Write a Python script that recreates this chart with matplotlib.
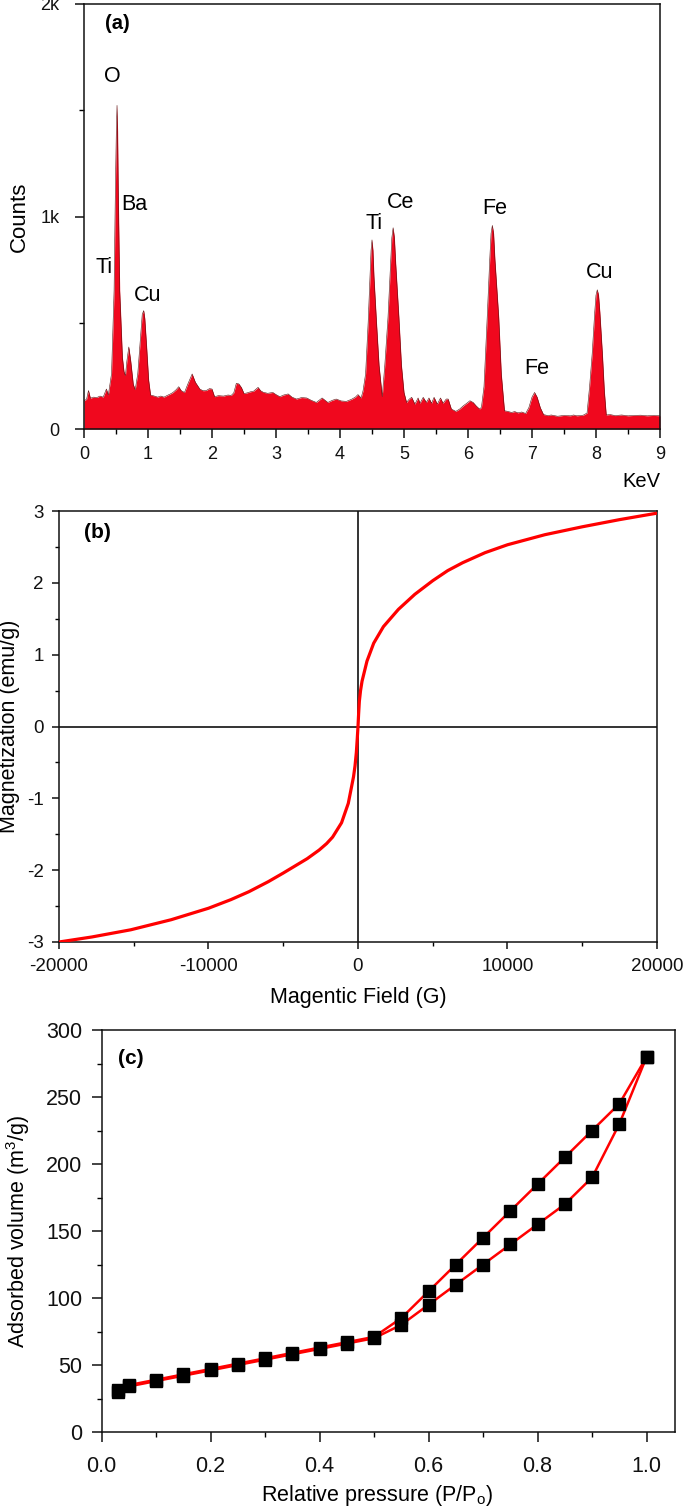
"""
Three-panel figure: EDS spectrum, M-H loop and N2 sorption isotherm.
"""

import matplotlib
matplotlib.use("Agg")
import matplotlib.pyplot as plt
from matplotlib.ticker import MultipleLocator, FixedLocator, FixedFormatter, FormatStrFormatter

plt.rcParams["font.family"] = ["Liberation Sans", "DejaVu Sans"]
plt.rcParams["axes.unicode_minus"] = False
plt.rcParams["mathtext.fontset"] = "custom"
plt.rcParams["mathtext.rm"] = "Liberation Sans"
plt.rcParams["mathtext.default"] = "regular"

RED = "#f0081e"

# (a) EDS spectrum
energy = [0.00, 0.04, 0.07, 0.10, 0.15, 0.20, 0.25, 0.30, 0.35, 0.38,
          0.40, 0.43, 0.455, 0.47, 0.49, 0.505, 0.516, 0.525, 0.535, 0.558,
          0.60, 0.625, 0.647, 0.67, 0.70, 0.73, 0.77, 0.80, 0.84, 0.88,
          0.91, 0.933, 0.95, 0.98, 1.01, 1.04, 1.10, 1.15, 1.20, 1.25,
          1.30, 1.35, 1.39, 1.44, 1.48, 1.52, 1.57, 1.62, 1.69, 1.74,
          1.81, 1.86, 1.91, 1.96, 2.00, 2.04, 2.10, 2.18, 2.25, 2.30,
          2.34, 2.38, 2.42, 2.46, 2.50, 2.55, 2.60, 2.65, 2.72, 2.76,
          2.80, 2.87, 2.95, 3.00, 3.06, 3.12, 3.19, 3.25, 3.32, 3.40,
          3.48, 3.55, 3.63, 3.72, 3.81, 3.88, 3.94, 4.02, 4.10, 4.18,
          4.24, 4.28, 4.33, 4.36, 4.40, 4.44, 4.47, 4.485, 4.50, 4.515,
          4.53, 4.57, 4.61, 4.66, 4.70, 4.75, 4.79, 4.81, 4.83, 4.85,
          4.87, 4.92, 4.96, 5.00, 5.04, 5.08, 5.12, 5.17, 5.22, 5.25,
          5.30, 5.35, 5.39, 5.43, 5.47, 5.52, 5.57, 5.61, 5.66, 5.69,
          5.74, 5.81, 5.87, 5.93, 5.98, 6.03, 6.08, 6.13, 6.18, 6.21,
          6.25, 6.30, 6.34, 6.36, 6.38, 6.40, 6.42, 6.48, 6.52, 6.57,
          6.62, 6.68, 6.73, 6.78, 6.84, 6.90, 6.95, 7.00, 7.04, 7.08,
          7.13, 7.18, 7.25, 7.30, 7.40, 7.50, 7.60, 7.65, 7.70, 7.80,
          7.86, 7.90, 7.94, 7.98, 8.00, 8.02, 8.04, 8.06, 8.10, 8.13,
          8.16, 8.22, 8.30, 8.40, 8.50, 8.60, 8.70, 8.80, 8.90, 9.00]
counts = [133, 140, 181, 145, 150, 148, 155, 150, 188, 160,
          200, 260, 496, 651, 1122, 1400, 1523, 1400, 1122, 651,
          337, 270, 251, 320, 386, 320, 210, 185, 260, 420,
          540, 557, 520, 380, 230, 160, 155, 150, 155, 150,
          158, 165, 172, 185, 199, 180, 172, 210, 259, 220,
          188, 180, 181, 190, 188, 152, 157, 155, 160, 158,
          170, 215, 212, 195, 167, 170, 175, 178, 196, 180,
          173, 168, 172, 162, 152, 160, 165, 150, 141, 148,
          146, 135, 125, 146, 125, 135, 141, 132, 130, 140,
          150, 162, 146, 180, 260, 502, 720, 840, 890, 840,
          720, 502, 300, 152, 300, 526, 780, 900, 947, 900,
          780, 526, 300, 172, 125, 140, 149, 117, 146, 121,
          149, 125, 146, 121, 149, 117, 146, 121, 141, 141,
          94, 83, 94, 110, 121, 133, 125, 108, 94, 102,
          200, 526, 800, 920, 958, 920, 800, 526, 260, 86,
          83, 78, 82, 76, 80, 73, 100, 150, 172, 150,
          100, 68, 63, 66, 60, 64, 62, 66, 62, 65,
          75, 200, 353, 550, 630, 655, 630, 550, 353, 180,
          66, 68, 63, 66, 62, 64, 65, 62, 64, 62]

eds_labels = ["O", "Ba", "Ti", "Cu", "Ti", "Ce", "Fe", "Fe", "Cu"]
eds_label_kev = [0.45, 0.585, 0.31, 1.0, 4.53, 4.94, 6.42, 7.08, 8.05]
eds_label_cts = [1659, 1056, 761, 628, 969, 1065, 1036, 283, 738]

# (b) magnetisation curve
field = [-20000, -17800, -15200, -12500, -10000, -8500, -7300, -6000, -5000,
         -3400, -2600, -2100, -1700, -1100, -650, -300, -200, -110, -50, 0,
         40, 90, 170, 270, 600, 1050, 1700, 2700, 3800, 5000, 6000, 7000,
         8500, 10000, 12500, 15000, 17500, 20000]
magnet = [-3.0, -2.93, -2.83, -2.69, -2.53, -2.41, -2.30, -2.16, -2.04,
          -1.84, -1.72, -1.63, -1.54, -1.34, -1.07, -0.70, -0.55, -0.36, -0.17, 0.0,
          0.17, 0.35, 0.50, 0.63, 0.91, 1.16, 1.39, 1.63, 1.84, 2.03, 2.17, 2.28,
          2.42, 2.53, 2.67, 2.78, 2.88, 2.97]

# (c) sorption isotherm
p_ads = [0.03, 0.05, 0.10, 0.15, 0.20, 0.25, 0.30, 0.35, 0.40, 0.45, 0.50,
         0.55, 0.60, 0.65, 0.70, 0.75, 0.80, 0.85, 0.90, 0.95, 1.00]
v_ads = [30, 34, 38, 42, 46, 50, 54, 58, 62, 66, 70,
         80, 95, 110, 125, 140, 155, 170, 190, 230, 280]
p_des = [1.00, 0.95, 0.90, 0.85, 0.80, 0.75, 0.70, 0.65, 0.60, 0.55, 0.50,
         0.45, 0.40, 0.35, 0.30, 0.25, 0.20, 0.15, 0.10, 0.05, 0.03]
v_des = [280, 245, 225, 205, 185, 165, 145, 125, 105, 85, 71,
         67, 63, 59, 55, 51, 47, 43, 39, 35, 31]

fig = plt.figure(figsize=(6.85, 15.07), dpi=100)
W, H = 685.0, 1507.0


def add_axes(left, right, top, bottom):
    return fig.add_axes([left / W, 1 - bottom / H, (right - left) / W, (bottom - top) / H])


def style(ax, lsize, maj_len, pad_x, pad_y):
    for sp in ax.spines.values():
        sp.set_linewidth(1.1)
        sp.set_color("#111")
    ax.tick_params(which="major", direction="out", length=maj_len, width=1.1,
                   labelsize=lsize, colors="#111")
    ax.tick_params(which="minor", direction="out", length=maj_len * 0.55, width=1.0)
    ax.tick_params(axis="x", which="major", pad=pad_x)
    ax.tick_params(axis="y", which="major", pad=pad_y)


# ---- (a)
ax = add_axes(84, 660, 4, 429)
ax.fill_between(energy, counts, 0, color=RED, lw=0)
ax.plot(energy, counts, color="#5a1010", lw=0.4)
ax.set_xlim(0, 9)
ax.set_ylim(0, 2000)
ax.xaxis.set_major_locator(MultipleLocator(1))
ax.xaxis.set_minor_locator(MultipleLocator(0.5))
ax.yaxis.set_major_locator(FixedLocator([0, 1000, 2000]))
ax.yaxis.set_major_formatter(FixedFormatter(["0", "1k", "2k"]))
ax.yaxis.set_minor_locator(MultipleLocator(500))
style(ax, 13, 6.5, 5.5, 11)
for t, x, y in zip(eds_labels, eds_label_kev, eds_label_cts):
    ax.text(x, y, t, fontsize=15.5, ha="left" if t == "Ba" else "center", va="center")
ax.text(0.036, 0.955, "(a)", transform=ax.transAxes, fontsize=14.5,
        fontweight="bold", ha="left", va="center")
ax.set_ylabel("Counts", fontsize=16)
ax.yaxis.set_label_coords(-0.094, 0.5)
ax.text(0.967, -0.102, "KeV", transform=ax.transAxes, fontsize=14.5,
        ha="center", va="top")

# ---- (b)
ax = add_axes(59, 657, 511, 942)
ax.axhline(0, color="#111", lw=1.2, zorder=1)
ax.axvline(0, color="#111", lw=1.2, zorder=1)
ax.plot(field, magnet, color="#ff0000", lw=2.3, zorder=3, solid_capstyle="butt")
ax.set_xlim(-20000, 20000)
ax.set_ylim(-3, 3)
ax.xaxis.set_major_locator(MultipleLocator(10000))
ax.xaxis.set_minor_locator(MultipleLocator(5000))
ax.yaxis.set_major_locator(MultipleLocator(1))
ax.yaxis.set_minor_locator(MultipleLocator(0.5))
style(ax, 13.5, 5, 6.5, 6)
ax.text(0.042, 0.949, "(b)", transform=ax.transAxes, fontsize=15,
        fontweight="bold", ha="left", va="center")
ax.set_xlabel("Magentic Field (G)", fontsize=15.5)
ax.xaxis.set_label_coords(0.5, -0.105)
ax.set_ylabel("Magnetization (emu/g)", fontsize=15.5)
ax.yaxis.set_label_coords(-0.066, 0.5)

# ---- (c)
ax = add_axes(101.5, 675, 1030, 1432)
for p, v in ((p_ads, v_ads), (p_des, v_des)):
    ax.plot(p, v, color="#ff0000", lw=1.8, marker="s", ms=8.5,
            mfc="black", mec="black", zorder=3)
ax.set_xlim(0, 1.052)
ax.set_ylim(0, 300)
ax.xaxis.set_major_locator(MultipleLocator(0.2))
ax.xaxis.set_minor_locator(MultipleLocator(0.1))
ax.xaxis.set_major_formatter(FormatStrFormatter("%.1f"))
ax.yaxis.set_major_locator(MultipleLocator(50))
ax.yaxis.set_minor_locator(MultipleLocator(25))
style(ax, 15.5, 7, 10, 7)
ax.text(0.028, 0.928, "(c)", transform=ax.transAxes, fontsize=15,
        fontweight="bold", ha="left", va="center")
ax.set_xlabel("Relative pressure (P/P$_o$)", fontsize=15.5)
ax.xaxis.set_label_coords(0.48, -0.128)
ax.set_ylabel("Adsorbed volume (m$^3$/g)", fontsize=15.5)
ax.yaxis.set_label_coords(-0.122, 0.5)

fig.savefig("out.png", dpi=100)
